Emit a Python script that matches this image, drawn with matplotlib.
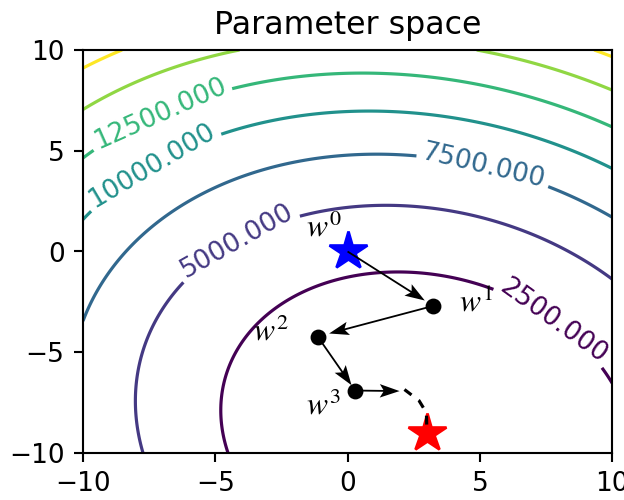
import numpy as np
import matplotlib.pyplot as plt

OUTFILE = "out.png"
DPI = 190

# contour levels of the loss
LEVELS = [2500, 5000, 7500, 10000, 12500, 15000, 17500]

# quadratic loss around the optimum
W_OPT = (3.0, -9.0)
A_UU, A_VV, A_UV = 42.0, 40.0, 11.5

# where the contour labels sit (one per labelled level)
CLABEL_POS = [(7.8, -3.4), (-4.3, 0.8), (5.15, 4.3), (-7.5, 4.5), (-7.2, 7.2)]

# gradient descent iterates w0..w4
PATH_X = [0.0, 3.24, -1.13, 0.29, 2.15]
PATH_Y = [0.0, -2.70, -4.22, -6.90, -6.93]

# rest of the descent (dashed)
TAIL_X = [2.15, 2.70, 2.98, 3.0]
TAIL_Y = [-6.85, -7.40, -8.00, -9.0]

# iterate labels
LABELS = [r"$w^0$", r"$w^1$", r"$w^2$", r"$w^3$"]
LABEL_X = [-0.9, 4.85, -2.9, -0.9]
LABEL_Y = [1.15, -2.55, -4.0, -7.65]


def loss(w0, w1):
    u = w0 - W_OPT[0]
    v = w1 - W_OPT[1]
    return A_UU * u**2 + A_VV * v**2 + A_UV * u * v


def main():
    plt.rcParams["mathtext.fontset"] = "stix"

    fig = plt.figure(figsize=(624 / DPI, 500 / DPI), dpi=DPI)
    ax = fig.add_axes([0.133, 0.094, 0.848, 0.806])

    g = np.linspace(-10, 10, 300)
    X, Y = np.meshgrid(g, g)
    Z = loss(X, Y)

    cs = ax.contour(X, Y, Z, levels=LEVELS, cmap="viridis", linewidths=1.2)
    ax.clabel(cs, levels=LEVELS[:5], inline=True, fontsize=10, fmt="%1.3f",
              manual=CLABEL_POS)

    # start and optimum
    ax.plot(PATH_X[0], PATH_Y[0], "*", color="blue", markersize=15, zorder=3)
    ax.plot(W_OPT[0], W_OPT[1], "*", color="red", markersize=15, zorder=3)

    # iterates and steps
    ax.plot(PATH_X[1:4], PATH_Y[1:4], "o", color="black", markersize=5, zorder=4)
    px = np.array(PATH_X)
    py = np.array(PATH_Y)
    ax.quiver(px[:-1], py[:-1], np.diff(px), np.diff(py),
              angles="xy", scale_units="xy", scale=1.11,
              width=0.0034, headwidth=7.5, headlength=11, headaxislength=9,
              color="black", zorder=5)
    ax.plot(TAIL_X, TAIL_Y, color="black", linewidth=1.2,
            linestyle=(0, (2.8, 2.8)), zorder=5)

    for s, x, y in zip(LABELS, LABEL_X, LABEL_Y):
        ax.text(x, y, s, fontsize=12, ha="center", va="center", zorder=6)

    ax.set_xlim(-10, 10)
    ax.set_ylim(-10, 10)
    ax.set_xticks([-10, -5, 0, 5, 10])
    ax.set_yticks([-10, -5, 0, 5, 10])
    ax.set_title("Parameter space")

    fig.savefig(OUTFILE, dpi=DPI)
    plt.close(fig)


if __name__ == "__main__":
    main()
